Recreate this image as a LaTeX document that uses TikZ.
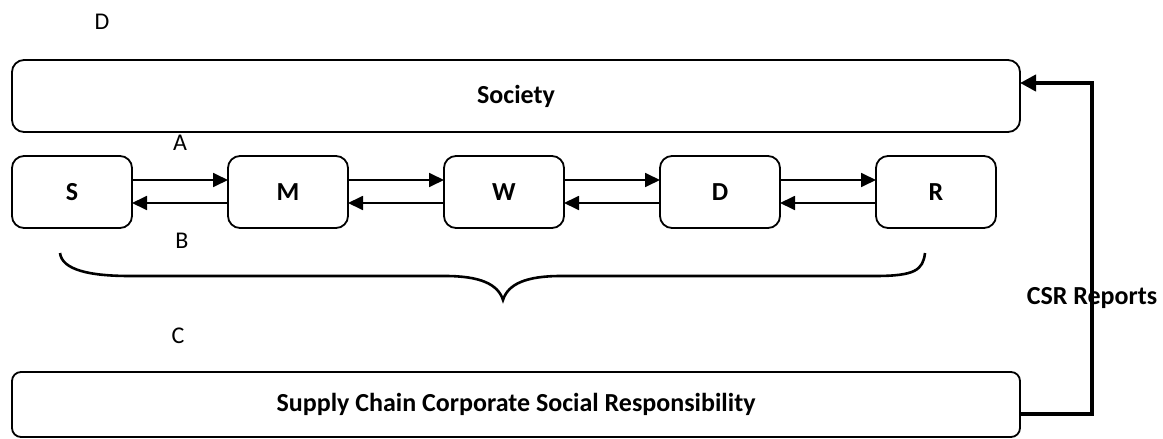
\documentclass[tikz,border=0pt]{standalone}
\usepackage{fontspec}
\setmainfont{Carlito}
\usetikzlibrary{arrows.meta}
\tikzset{
  box/.style={draw, line width=1.8pt, rounded corners=12pt, inner sep=0pt, outer sep=0pt,
    font=\fontsize{26}{30}\selectfont\bfseries},
  small/.style={box, minimum width=120pt, minimum height=72pt},
  flow/.style={line width=1.8pt, -{Triangle[length=15pt,width=14pt]}},
  csr/.style={line width=4.5pt, -{Triangle[length=16pt,width=16pt]}},
  letter/.style={inner sep=0pt, font=\fontsize{24}{28}\selectfont},
  brace/.style={line width=2.6pt}
}
\begin{document}
\begin{tikzpicture}[x=1pt,y=-1pt]
\useasboundingbox (0,0) rectangle (1163,439);
\node[box, minimum width=1008pt, minimum height=72pt] (soc) at (516,96) {Society};
\node[box, rounded corners=9pt, minimum width=1008pt, minimum height=65pt] (sc) at (516,404.5) {Supply Chain Corporate Social Responsibility};
\node[small] (S) at (72,192) {S};
\node[small] (M) at (288,192) {M};
\node[small] (W) at (504,192) {W};
\node[small] (D) at (720,192) {D};
\node[small] (R) at (936,192) {R};
\foreach \a/\b in {S/M, M/W, W/D, D/R}{
  \draw[flow] ([yshift=12pt]\a.east) -- ([yshift=12pt]\b.west);
  \draw[flow] ([yshift=-11pt]\b.west) -- ([yshift=-11pt]\a.east);
}
\node[letter] (lD) at (102,22) {D};
\node[letter] (lA) at (180,143) {A};
\node[letter] (lB) at (182,241) {B};
\node[letter] (lC) at (178,336) {C};
\draw[brace] (60,253) .. controls (62,270) and (90,276) .. (130,276) -- (445,276)
  .. controls (480,276) and (498,284) .. (503,300)
  .. controls (508,284) and (526,276) .. (561,276) -- (875,276)
  .. controls (915,276) and (923,270) .. (925,253);
\node[inner sep=0pt, font=\fontsize{26}{30}\selectfont\bfseries] (csrl) at (1092,298) {CSR Reports};
\coordinate (turn) at (1092,414);
\draw[csr] ([yshift=-9.5pt]sc.east) -- (turn) |- ([yshift=13pt]soc.east);
\end{tikzpicture}
\end{document}
